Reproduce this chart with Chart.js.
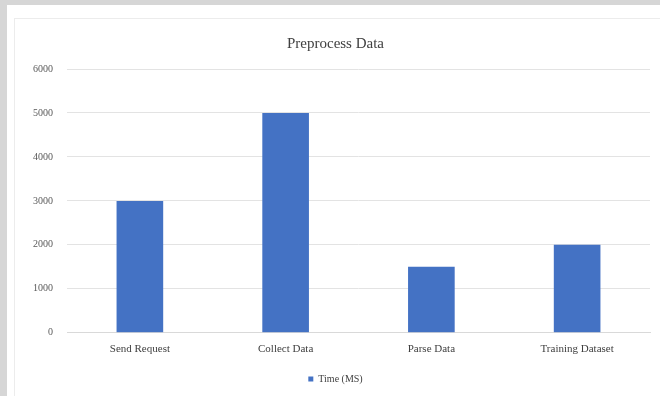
<!DOCTYPE html>
<html lang="en">
<head>
    <meta charset="UTF-8">
    <title>Preprocess Data</title>
    <script src="https://cdn.jsdelivr.net/npm/chart.js"></script>
    <style>
        body {
            margin: 0;
            width: 660px;
            height: 396px;
            background-color: #d6d6d6;
            overflow: hidden;
            position: relative;
        }

        .frame {
            position: absolute;
            left: 7px;
            top: 5px;
            width: 653px;
            height: 391px;
            background-color: #ffffff;
        }

        .inner {
            position: absolute;
            left: 7px;
            top: 13px;
            right: 0;
            bottom: 0;
            border-left: 1px solid #ececec;
            border-top: 1px solid #ececec;
        }

        canvas {
            position: absolute;
            left: 0;
            top: 0;
        }
    </style>
</head>
<body>
    <div class="frame">
        <div class="inner"></div>
        <canvas id="barChart" width="653" height="391"></canvas>
    </div>

    <script>
        const categories = ["Send Request", "Collect Data", "Parse Data", "Training Dataset"];
        const timeValues = [3000, 5000, 1500, 2000];
        const seriesName = "Time (MS)";
        const yTicks = [0, 1000, 2000, 3000, 4000, 5000, 6000];

        const serif = "'Liberation Serif', 'Times New Roman', serif";

        const ctx = document.getElementById('barChart').getContext('2d');

        new Chart(ctx, {
            type: 'bar',
            data: {
                labels: categories,
                datasets: [{
                    label: seriesName,
                    data: timeValues,
                    backgroundColor: "#4472c4",
                    borderWidth: 0,
                    categoryPercentage: 1,
                    barPercentage: 0.32
                }]
            },
            options: {
                responsive: false,
                animation: false,
                layout: {
                    padding: { left: 14, right: 10, top: 30, bottom: 2 }
                },
                scales: {
                    x: {
                        grid: { display: false, drawTicks: false },
                        border: { display: true, color: "#d9d9d9" },
                        ticks: {
                            padding: 10,
                            color: "#404040",
                            font: { family: serif, size: 11 }
                        }
                    },
                    y: {
                        min: yTicks[0],
                        max: yTicks[yTicks.length - 1],
                        afterBuildTicks: (axis) => {
                            axis.ticks = yTicks.map(v => ({ value: v }));
                        },
                        afterFit: (axis) => {
                            axis.width = 46;
                        },
                        grid: { color: "#e3e3e3", drawTicks: false },
                        border: { display: false },
                        ticks: {
                            padding: 14,
                            color: "#595959",
                            font: { family: serif, size: 10 },
                            callback: (value) => String(value)
                        }
                    }
                },
                plugins: {
                    title: {
                        display: true,
                        text: "Preprocess Data",
                        color: "#404040",
                        font: { family: serif, size: 15, weight: 'normal' },
                        padding: { top: 0, bottom: 16 }
                    },
                    legend: {
                        position: 'bottom',
                        labels: {
                            usePointStyle: true,
                            pointStyle: 'rect',
                            boxWidth: 5,
                            boxHeight: 5,
                            padding: 8,
                            color: "#404040",
                            font: { family: serif, size: 10 }
                        }
                    },
                    tooltip: { enabled: false }
                }
            }
        });
    </script>
</body>
</html>
